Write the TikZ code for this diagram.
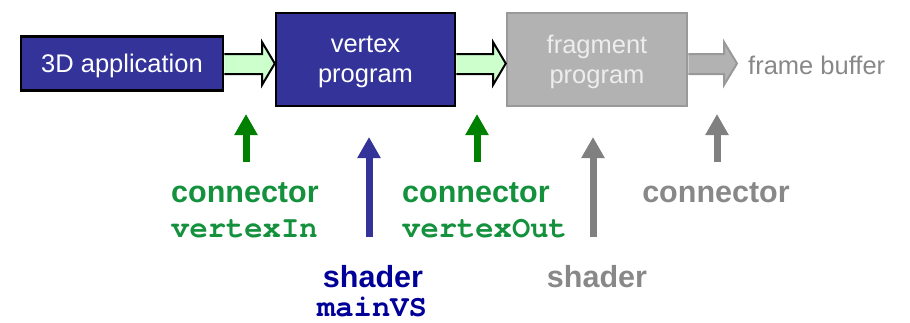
\documentclass[tikz,border=0pt]{standalone}
\usepackage{fontspec}
\setmainfont{Liberation Sans}
\setmonofont{TeX Gyre Cursor}
\usetikzlibrary{arrows.meta}
\definecolor{boxblue}{RGB}{51,51,153}
\definecolor{boxgray}{RGB}{178,178,178}
\definecolor{boxgrayedge}{RGB}{153,153,153}
\definecolor{lightgreen}{RGB}{204,255,204}
\definecolor{arrgreen}{RGB}{0,128,0}
\definecolor{txtgreen}{RGB}{20,145,60}
\definecolor{txtblue}{RGB}{0,0,153}
\definecolor{midgray}{RGB}{128,128,128}
\definecolor{txtgray}{RGB}{136,136,136}
\tikzset{
  stage/.style={draw=black, line width=2.5pt, fill=boxblue, text=white, align=center, inner sep=0pt,
    text depth=0pt, font=\fontsize{25.5}{30}\selectfont},
  graystage/.style={stage, draw=boxgrayedge, fill=boxgray, text=white!93!black},
  fat/.style={line width=2pt, line join=miter},
  thin/.style={line width=7pt, -{Triangle[width=22pt,length=21pt]}},
  lbl/.style={inner sep=0pt, font=\fontsize{30.5}{34}\selectfont\bfseries},
  codelbl/.style={inner sep=0pt, font=\fontsize{30.5}{34}\selectfont\ttfamily\bfseries},
}
\begin{document}
\begin{tikzpicture}[x=1pt,y=-1pt]
\useasboundingbox (0,0) rectangle (910,322);
% boxes
\node[stage, minimum width=202pt, minimum height=54pt] (app) at (122,63.5) {3D application};
\node[stage, minimum width=179pt, minimum height=93pt] (vp) at (365.5,59.5) {vertex\\program};
\node[graystage, minimum width=180pt, minimum height=93pt] (fp) at (597,59.5) {fragment\\program};
% fat arrows
\draw[fat, fill=lightgreen] (app.east |- 0,54) -- (262,54) -- (262,42) -- (vp.west |- 0,63.5) -- (262,85) -- (262,74) -- (app.east |- 0,74);
\draw[fat, fill=lightgreen] (vp.east |- 0,54) -- (493,54) -- (493,42) -- (fp.west |- 0,63.5) -- (493,85) -- (493,74) -- (vp.east |- 0,74);
\coordinate (fbtip) at (737,63.5);
\draw[fat, draw=boxgrayedge, fill=boxgray] (fp.east |- 0,54) -- (724,54) -- (724,42) -- (fbtip) -- (724,85) -- (724,74) -- (fp.east |- 0,74);
\node[anchor=base west, inner sep=0pt, text=txtgray, font=\fontsize{25.5}{30}\selectfont] (fb) at (748,74) {frame buffer};
% labels
\node[lbl, text=txtgreen, anchor=base west] (c1) at (171,202) {connector};
\node[codelbl, text=txtgreen, anchor=base west] (vin) at (171,237) {vertexIn};
\node[lbl, text=txtgreen, anchor=base west] (c2) at (402,202) {connector};
\node[codelbl, text=txtgreen, anchor=base west] (vout) at (402,237) {vertexOut};
\node[lbl, text=txtblue, anchor=base] (s1) at (373,287) {shader};
\node[codelbl, text=txtblue, anchor=base] (mvs) at (372,316) {mainVS};
\node[lbl, text=txtgray, anchor=base] (s2) at (597,287) {shader};
\node[lbl, text=txtgray, anchor=base] (c3) at (716,202) {connector};
% thin up arrows
\coordinate (g1a) at (246,162); \coordinate (g1b) at (246,114);
\coordinate (b1a) at (369,237); \coordinate (b1b) at (369,137);
\coordinate (g2a) at (477,162); \coordinate (g2b) at (477,114);
\coordinate (r1a) at (593,237); \coordinate (r1b) at (593,137);
\coordinate (r2a) at (717,162); \coordinate (r2b) at (717,114);
\draw[thin, arrgreen] (g1a) -- (g1b);
\draw[thin, boxblue] (b1a) -- (b1b);
\draw[thin, arrgreen] (g2a) -- (g2b);
\draw[thin, midgray] (r1a) -- (r1b);
\draw[thin, midgray] (r2a) -- (r2b);
\end{tikzpicture}
\end{document}
